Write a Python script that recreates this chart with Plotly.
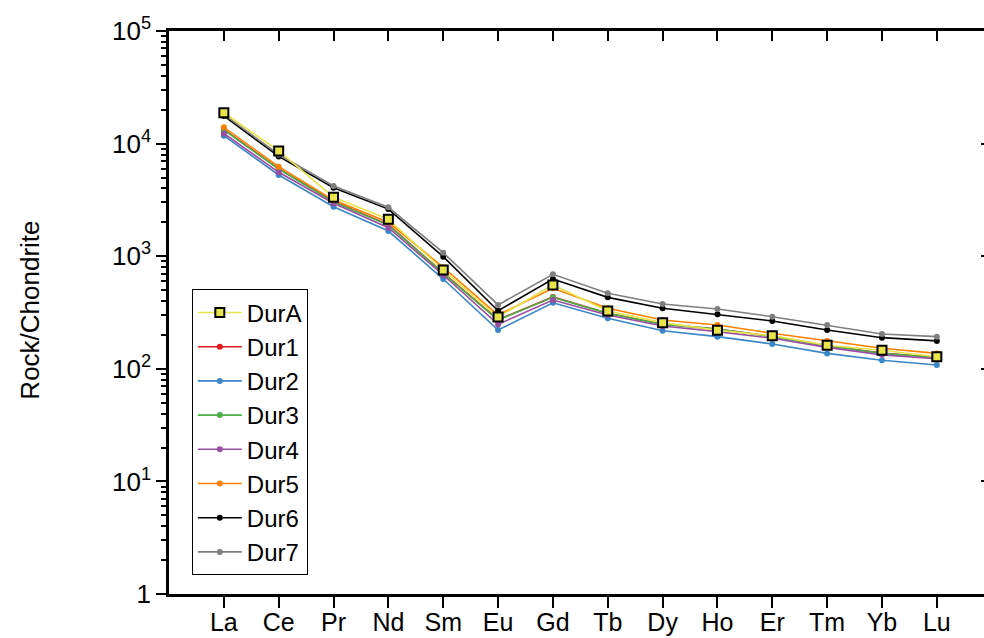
import plotly.graph_objects as go

categories = ["La", "Ce", "Pr", "Nd", "Sm", "Eu", "Gd", "Tb", "Dy", "Ho", "Er", "Tm", "Yb", "Lu"]

dur_a = [18800, 8600, 3340, 2130, 754, 288, 555, 326, 257, 220, 197, 162, 146, 128]
dur_1 = [13300, 5980, 3060, 1900, 710, 273, 435, 312, 249, 226, 194, 160, 138, 126]
dur_2 = [11750, 5260, 2750, 1673, 627, 221, 386, 281, 218, 193, 166, 137, 119, 108]
dur_3 = [13200, 5950, 3050, 1890, 705, 271, 431, 311, 248, 225, 193, 160, 137, 126]
dur_4 = [12300, 5560, 2950, 1790, 681, 248, 408, 300, 240, 214, 187, 155, 133, 123]
dur_5 = [13960, 6240, 3150, 2000, 797, 300, 519, 345, 271, 245, 207, 177, 152, 137]
dur_6 = [17600, 7700, 4050, 2620, 990, 328, 627, 431, 345, 305, 266, 221, 189, 177]
dur_7 = [18200, 8000, 4200, 2720, 1075, 369, 691, 468, 376, 340, 290, 245, 204, 193]

ytick_vals = [1, 10, 100, 1000, 10000, 100000]
ytick_text = ["1", "10<sup>1</sup>", "10<sup>2</sup>", "10<sup>3</sup>", "10<sup>4</sup>", "10<sup>5</sup>"]

series = [
    ("Dur1", dur_1, "#e41a1c"),
    ("Dur2", dur_2, "#3a86c8"),
    ("Dur3", dur_3, "#4daf4a"),
    ("Dur4", dur_4, "#984ea3"),
    ("Dur5", dur_5, "#ff7f00"),
    ("Dur6", dur_6, "#000000"),
    ("Dur7", dur_7, "#7f7f7f"),
]

FONT = "Liberation Sans, Arial, Helvetica, sans-serif"

fig = go.Figure()
xs = list(range(len(categories)))

for i, (name, vals, col) in enumerate(series):
    fig.add_trace(go.Scatter(
        x=xs, y=vals, name=name, mode="lines+markers",
        line=dict(color=col, width=1.6),
        marker=dict(symbol="circle", size=6, color=col),
        legendrank=i + 2,
    ))

fig.add_trace(go.Scatter(
    x=xs, y=dur_a, name="DurA", mode="lines+markers",
    line=dict(color="#e8e44c", width=1.6),
    marker=dict(symbol="square", size=9, color="#e8e44c",
                line=dict(color="#000000", width=2)),
    legendrank=1,
))

# helper trace on the mirrored axes (top / right), no visible marks
fig.add_trace(go.Scatter(
    x=[None], y=[None], xaxis="x2", yaxis="y2", mode="lines",
    showlegend=False, hoverinfo="skip",
))

minor_vals = [m * 10 ** k for k in range(0, 5) for m in range(2, 10)]

fig.update_layout(
    width=984, height=638,
    margin=dict(l=169, r=0, t=31, b=44, autoexpand=False),
    paper_bgcolor="white", plot_bgcolor="white",
    font=dict(family=FONT, size=26, color="black"),
    showlegend=True,
    xaxis=dict(
        range=[-1.0, 13.86], automargin=False,
        tickmode="array", tickvals=xs, ticktext=categories,
        ticks="outside", ticklen=11, tickwidth=2, tickcolor="black",
        ticklabelstandoff=-7,
        showline=True, linewidth=2.5, linecolor="black",
        showgrid=False, zeroline=False,
        tickfont=dict(size=25, family=FONT),
    ),
    xaxis2=dict(
        overlaying="x", side="top", anchor="y", automargin=False,
        range=[-1.0, 13.86],
        tickmode="array", tickvals=xs, showticklabels=False,
        ticks="inside", ticklen=10, tickwidth=2, tickcolor="black",
        showline=True, linewidth=2.5, linecolor="black",
        showgrid=False, zeroline=False,
    ),
    yaxis=dict(
        type="log", range=[0, 5], automargin=False,
        tickmode="array", tickvals=ytick_vals, ticktext=ytick_text,
        ticks="outside", ticklen=10, tickwidth=2, tickcolor="black",
        minor=dict(tickmode="array", tickvals=minor_vals, ticks="outside",
                   ticklen=5, tickwidth=1.5, tickcolor="black", showgrid=False),
        showline=True, linewidth=2.5, linecolor="black",
        showgrid=False, zeroline=False,
        tickfont=dict(size=26, family=FONT),
    ),
    yaxis2=dict(
        overlaying="y", side="right", anchor="x", automargin=False,
        type="log", range=[0, 5],
        tickmode="array", tickvals=ytick_vals, showticklabels=False,
        ticks="inside", ticklen=3, tickwidth=2, tickcolor="black",
        showline=False, showgrid=False, zeroline=False,
    ),
    legend=dict(
        x=0.028, y=0.541, xanchor="left", yanchor="top",
        bgcolor="white", bordercolor="black", borderwidth=1,
        font=dict(size=24, family=FONT),
        traceorder="normal",
        itemwidth=44,
    ),
    annotations=[dict(
        text="Rock/Chondrite", xref="paper", yref="paper",
        x=-0.1706, y=0.505, xanchor="center", yanchor="middle",
        textangle=-90, showarrow=False,
        font=dict(size=26, family=FONT),
    )],
)

fig.write_html(
    "out.html",
    config={"displayModeBar": False},
    post_script="document.body.style.margin='0';document.body.style.overflow='hidden';",
)
